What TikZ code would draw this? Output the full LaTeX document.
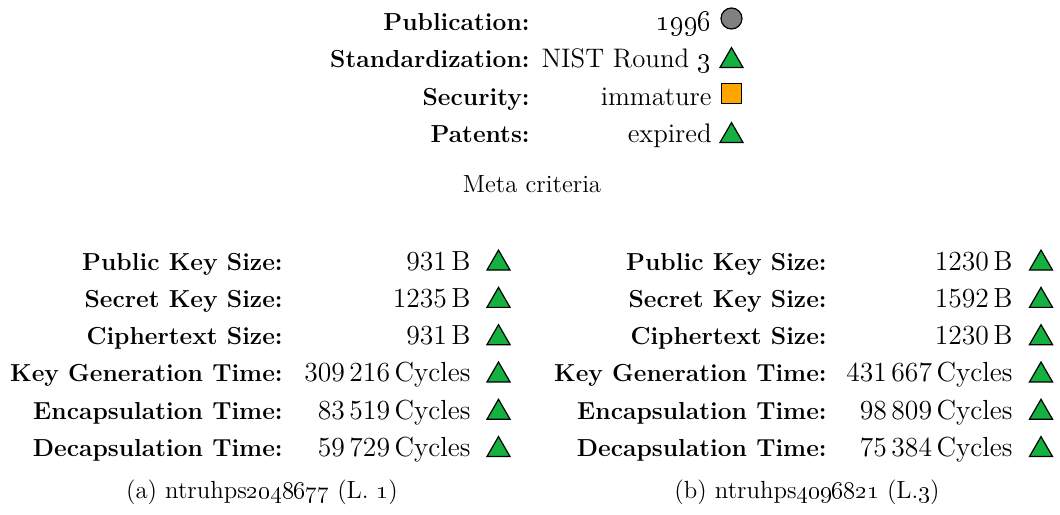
\documentclass[tikz,border=0pt]{standalone}
\usetikzlibrary{shapes.geometric}

\definecolor{okgreen}{HTML}{14B040}
\definecolor{warnorange}{HTML}{FFA500}
\definecolor{neutralgrey}{HTML}{808080}

\tikzset{
  lab/.style={anchor=base east, inner sep=0pt, font=\fontsize{12.3}{14}\selectfont\bfseries},
  val/.style={anchor=base east, inner sep=0pt, font=\fontsize{13.8}{16}\selectfont},
  tval/.style={anchor=base east, inner sep=0pt, font=\fontsize{13.4}{16}\selectfont},
  capt/.style={anchor=base, inner sep=0pt, font=\fontsize{12.4}{15}\selectfont},
  good/.style={regular polygon, regular polygon sides=3, draw, line width=0.6pt,
    fill=okgreen, minimum size=13.3pt, inner sep=0pt, outer sep=0pt},
  fair/.style={rectangle, draw, line width=0.6pt, fill=warnorange,
    minimum size=10pt, inner sep=0pt},
  info/.style={circle, draw, line width=0.6pt, fill=neutralgrey,
    minimum size=10.5pt, inner sep=0pt}
}

\begin{document}
\begin{tikzpicture}[x=0.5pt, y=-0.5pt]
  \useasboundingbox (0,0) rectangle (1060,514);

  % meta criteria
  \node[lab]  (mPubL) at (530,30)    {Publication:};
  \node[tval] (mPubV) at (712,30)    {\oldstylenums{1996}};
  \node[info] (mPubS) at (731.5,18.5) {};

  \node[lab]  (mStdL) at (530,67.5)  {Standardization:};
  \node[tval] (mStdV) at (712,67.5)  {NIST Round \oldstylenums{3}};
  \node[good] (mStdS) at (731.5,60.9) {};

  \node[lab]  (mSecL) at (530,105)   {Security:};
  \node[tval] (mSecV) at (712,105)   {immature};
  \node[fair] (mSecS) at (731.5,93.5) {};

  \node[lab]  (mPatL) at (530,142.5) {Patents:};
  \node[tval] (mPatV) at (712,142.5) {expired};
  \node[good] (mPatS) at (731.5,135.9) {};

  \node[capt] (mCap) at (532,192) {Meta criteria};

  % (a) ntruhps2048677
  \node[lab] (aPkL) at (283,270)   {Public Key Size:};
  \node[val] (aPkV) at (471,270)   {931\,B};
  \node[good] (aPkS) at (498.5,263.4) {};

  \node[lab] (aSkL) at (283,307.3) {Secret Key Size:};
  \node[val] (aSkV) at (471,307.3) {1235\,B};
  \node[good] (aSkS) at (498.5,300.7) {};

  \node[lab] (aCtL) at (283,344.6) {Ciphertext Size:};
  \node[val] (aCtV) at (471,344.6) {931\,B};
  \node[good] (aCtS) at (498.5,338) {};

  \node[lab] (aKgL) at (283,381.9) {Key Generation Time:};
  \node[val] (aKgV) at (471,381.9) {309\,216\,Cycles};
  \node[good] (aKgS) at (498.5,375.3) {};

  \node[lab] (aEnL) at (283,419.2) {Encapsulation Time:};
  \node[val] (aEnV) at (471,419.2) {83\,519\,Cycles};
  \node[good] (aEnS) at (498.5,412.6) {};

  \node[lab] (aDeL) at (283,456.5) {Decapsulation Time:};
  \node[val] (aDeV) at (471,456.5) {59\,729\,Cycles};
  \node[good] (aDeS) at (498.5,449.9) {};

  \node[capt] (aCap) at (262,498) {(a) ntruhps\oldstylenums{2048677} (L. \oldstylenums{1})};

  % (b) ntruhps4096821
  \node[lab] (bPkL) at (827,270)   {Public Key Size:};
  \node[val] (bPkV) at (1013,270)  {1230\,B};
  \node[good] (bPkS) at (1041,263.4) {};

  \node[lab] (bSkL) at (827,307.3) {Secret Key Size:};
  \node[val] (bSkV) at (1013,307.3) {1592\,B};
  \node[good] (bSkS) at (1041,300.7) {};

  \node[lab] (bCtL) at (827,344.6) {Ciphertext Size:};
  \node[val] (bCtV) at (1013,344.6) {1230\,B};
  \node[good] (bCtS) at (1041,338) {};

  \node[lab] (bKgL) at (827,381.9) {Key Generation Time:};
  \node[val] (bKgV) at (1013,381.9) {431\,667\,Cycles};
  \node[good] (bKgS) at (1041,375.3) {};

  \node[lab] (bEnL) at (827,419.2) {Encapsulation Time:};
  \node[val] (bEnV) at (1013,419.2) {98\,809\,Cycles};
  \node[good] (bEnS) at (1041,412.6) {};

  \node[lab] (bDeL) at (827,456.5) {Decapsulation Time:};
  \node[val] (bDeV) at (1013,456.5) {75\,384\,Cycles};
  \node[good] (bDeS) at (1041,449.9) {};

  \node[capt] (bCap) at (807,498) {(b) ntruhps\oldstylenums{4096821} (L.\oldstylenums{3})};
\end{tikzpicture}
\end{document}
